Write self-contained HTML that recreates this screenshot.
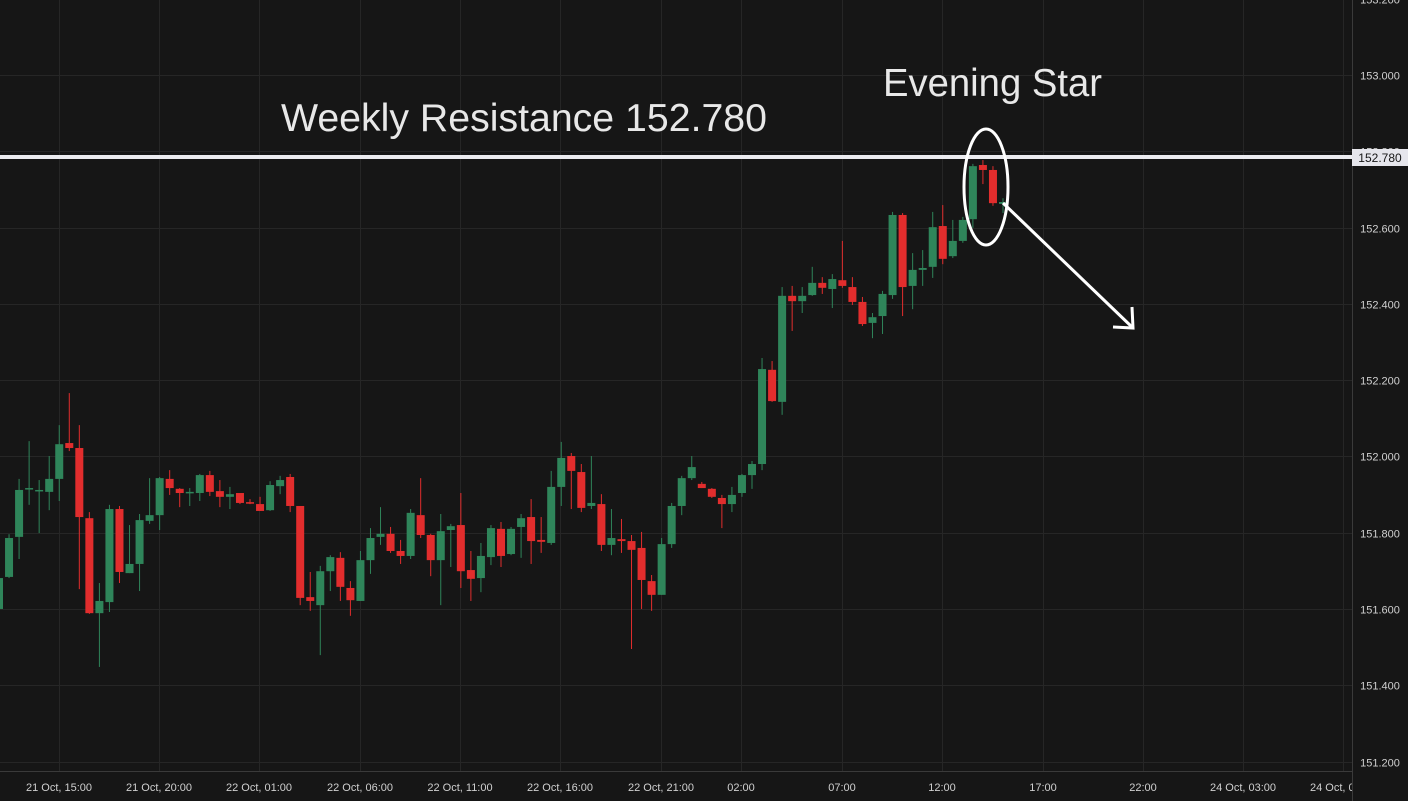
<!DOCTYPE html>
<html><head><meta charset="utf-8"><style>
html,body{margin:0;padding:0;background:#161616;overflow:hidden}
svg{display:block}
text{font-family:"Liberation Sans",sans-serif}
</style></head><body>
<svg id="chart" width="1408" height="801" viewBox="0 0 1408 801" xmlns="http://www.w3.org/2000/svg">
<defs><clipPath id="xclip"><rect x="0" y="772" width="1352" height="29"/></clipPath></defs>
<rect width="1408" height="801" fill="#161616"/>
<g id="grid"></g>
<g id="candles"></g>
<g id="yaxis"></g>
<g id="xaxis" clip-path="url(#xclip)"></g>
<line x1="0" y1="157" x2="1352" y2="157" stroke="#ececf0" stroke-width="4"/>
<rect x="1352" y="149" width="56" height="17" fill="#e6e6ec"/>
<text x="1380" y="162" font-size="12" fill="#161616" text-anchor="middle">152.780</text>
<text x="281" y="131" font-size="39" fill="#e8e8e8" textLength="486" lengthAdjust="spacingAndGlyphs">Weekly Resistance 152.780</text>
<text x="883" y="96" font-size="39" fill="#e8e8e8" textLength="219" lengthAdjust="spacingAndGlyphs">Evening Star</text>
<ellipse cx="986" cy="187" rx="22" ry="58" fill="none" stroke="#fff" stroke-width="3"/>
<g stroke="#fff" stroke-width="3" fill="none">
<line x1="1003" y1="203" x2="1133" y2="328"/>
<polyline points="1113,327 1133,328 1132,307"/>
</g>
</svg>
<script>
const opens=[151.600,151.684,151.789,151.915,151.909,151.907,151.941,152.035,152.022,151.838,151.589,151.618,151.862,151.694,151.718,151.831,151.846,151.941,151.915,151.904,151.904,151.951,151.909,151.894,151.904,151.880,151.875,151.859,151.922,151.946,151.870,151.631,151.610,151.699,151.734,151.655,151.621,151.728,151.789,151.797,151.752,151.739,151.846,151.794,151.728,151.807,151.820,151.702,151.681,151.736,151.810,151.744,151.815,151.841,151.781,151.773,151.920,152.001,151.959,151.870,151.875,151.768,151.783,151.778,151.760,151.673,151.637,151.770,151.870,151.943,151.928,151.915,151.891,151.875,151.904,151.951,151.980,152.227,152.143,152.421,152.407,152.423,152.455,152.439,152.462,152.444,152.405,152.350,152.368,152.423,152.633,152.447,152.489,152.497,152.604,152.525,152.565,152.622,152.764,152.751,152.662];
const highs=[151.689,151.796,151.941,152.040,151.938,152.001,152.082,152.166,152.082,151.854,151.668,151.873,151.870,151.820,151.849,151.943,151.946,151.964,151.917,151.917,151.954,151.962,151.938,151.920,151.904,151.888,151.894,151.935,151.949,151.954,151.870,151.697,151.713,151.741,151.749,151.673,151.752,151.812,151.867,151.815,151.781,151.862,151.943,151.797,151.849,151.823,151.904,151.752,151.773,151.820,151.828,151.815,151.849,151.888,151.841,151.962,152.038,152.009,151.980,152.001,151.901,151.862,151.836,151.794,151.802,151.689,151.786,151.878,151.949,152.001,151.933,151.917,151.899,151.920,151.954,151.988,152.258,152.250,152.444,152.447,152.444,152.497,152.470,152.478,152.565,152.470,152.418,152.376,152.434,152.641,152.638,152.533,152.541,152.641,152.659,152.620,152.628,152.767,152.777,152.761,152.677];
const lows=[151.592,151.681,151.731,151.873,151.799,151.859,151.883,152.014,151.652,151.587,151.448,151.592,151.668,151.694,151.647,151.823,151.807,151.899,151.867,151.870,151.883,151.896,151.867,151.862,151.875,151.875,151.857,151.857,151.901,151.854,151.610,151.595,151.479,151.647,151.621,151.582,151.621,151.692,151.768,151.747,151.718,151.731,151.786,151.686,151.610,151.710,151.655,151.621,151.644,151.715,151.710,151.741,151.734,151.718,151.747,151.768,151.870,151.862,151.854,151.862,151.752,151.741,151.747,151.495,151.600,151.595,151.637,151.760,151.846,151.938,151.917,151.891,151.812,151.854,151.894,151.915,151.964,152.143,152.109,152.329,152.376,152.421,152.426,152.389,152.442,152.397,152.342,152.310,152.321,152.413,152.368,152.386,152.447,152.468,152.504,152.520,152.560,152.599,152.714,152.657,152.638];
const closes=[151.681,151.786,151.912,151.917,151.912,151.941,152.032,152.022,151.841,151.589,151.621,151.862,151.697,151.718,151.833,151.846,151.943,151.917,151.904,151.907,151.951,151.907,151.894,151.901,151.878,151.876,151.857,151.925,151.938,151.870,151.629,151.621,151.699,151.736,151.658,151.623,151.728,151.786,151.797,151.752,151.739,151.852,151.794,151.728,151.804,151.817,151.699,151.679,151.739,151.812,151.739,151.810,151.838,151.778,151.776,151.920,151.996,151.962,151.865,151.878,151.768,151.786,151.778,151.755,151.676,151.637,151.770,151.870,151.943,151.972,151.917,151.894,151.875,151.899,151.951,151.980,152.229,152.145,152.421,152.407,152.421,152.455,152.442,152.465,152.447,152.405,152.347,152.365,152.426,152.633,152.444,152.489,152.494,152.601,152.518,152.565,152.620,152.761,152.751,152.664,152.667];
const priceTicks=[153.2,153.0,152.8,152.6,152.4,152.2,152.0,151.8,151.6,151.4,151.2];
const timeLabels=["21 Oct, 15:00","21 Oct, 20:00","22 Oct, 01:00","22 Oct, 06:00","22 Oct, 11:00","22 Oct, 16:00","22 Oct, 21:00","02:00","07:00","12:00","17:00","22:00","24 Oct, 03:00","24 Oct, 08:00"];
const timeTickX=[59,159,259,360,460,560,661,741,842,942,1043,1143,1243,1343];

const NS="http://www.w3.org/2000/svg";
const plotRight=1352, plotBottom=771;
function yScale(p){return 75+(153-p)*381.4;}
function xScale(i){return -1+10.04*i;}
function mk(tag,attrs,parent){const e=document.createElementNS(NS,tag);for(const k in attrs)e.setAttribute(k,attrs[k]);parent.appendChild(e);return e;}
const grid=document.getElementById('grid'),cg=document.getElementById('candles'),ya=document.getElementById('yaxis'),xa=document.getElementById('xaxis');
priceTicks.forEach(p=>{
  const y=Math.round(yScale(p))+0.5;
  const l=mk('line',{x1:0,x2:plotRight,y1:y,y2:y,stroke:'#262626','stroke-width':1},grid);
  
  
  const t=mk('text',{x:1380,y:y+4,'font-size':11,fill:'#d0d0d0','text-anchor':'middle'},ya);
  t.textContent=p.toFixed(3);
  
  
});
timeTickX.forEach((x,k)=>{
  const l=mk('line',{x1:x+0.5,x2:x+0.5,y1:0,y2:plotBottom,stroke:'#262626','stroke-width':1},grid);
  
  
  const t=mk('text',{x:x,y:791,'font-size':11,fill:'#d0d0d0','text-anchor':'middle'},xa);
  t.textContent=timeLabels[k];
  
  
});
const ax1=mk('line',{x1:plotRight+0.5,x2:plotRight+0.5,y1:0,y2:801,stroke:'#3a3a3a','stroke-width':1},grid);


const ax2=mk('line',{x1:0,x2:plotRight,y1:plotBottom+0.5,y2:plotBottom+0.5,stroke:'#3a3a3a','stroke-width':1},grid);


opens.forEach((o,i)=>{
  const c=closes[i],h=highs[i],lo=lows[i];
  const col=c>=o?'#2f855a':'#e22d2d';
  const x=xScale(i);
  const g=mk('g',{},cg);
  
  
  mk('line',{x1:x,x2:x,y1:yScale(h),y2:yScale(lo),stroke:col,'stroke-width':1},g);
  const top=yScale(Math.max(o,c)),bot=yScale(Math.min(o,c));
  mk('rect',{x:x-4,y:top,width:8,height:Math.max(bot-top,1.5),fill:col},g);
});
</script>
</body></html>
